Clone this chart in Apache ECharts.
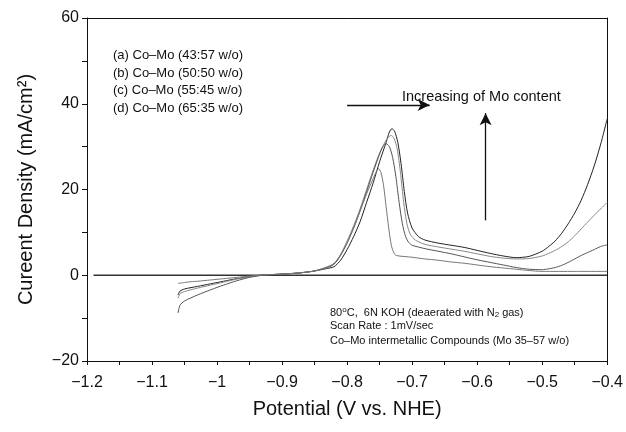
<!DOCTYPE html>
<html>
<head>
<meta charset="utf-8">
<script src="https://cdn.jsdelivr.net/npm/echarts@6/dist/echarts.min.js"></script>
<style>
html, body { margin: 0; padding: 0; background: #fff; }
#main { width: 626px; height: 432px; }
</style>
</head>
<body>
<div id="main"></div>
<script>
// potential (V vs NHE), current density (mA/cm2)
var curveA = [[-1.06,-4.6],[-1.057,-3.7],[-1.05,-3.2],[-1.03,-2.6],[-1.01,-2.0],[-0.99,-1.4],[-0.97,-0.8],[-0.95,-0.3],[-0.93,0.05],[-0.91,0.2],
  [-0.89,0.35],[-0.87,0.6],[-0.85,1.0],[-0.83,1.6],[-0.82,2.0],[-0.81,3.5],[-0.80,6],[-0.79,9],[-0.78,12.5],[-0.77,17],[-0.76,21.5],[-0.75,26.5],
  [-0.74,31],[-0.735,33.4],[-0.731,34.2],[-0.727,33.6],[-0.722,31],[-0.717,26],[-0.712,19.5],[-0.707,14.5],[-0.70,11],[-0.69,9],[-0.68,8.2],
  [-0.66,7.5],[-0.64,7],[-0.62,6.5],[-0.60,5.8],[-0.58,5.1],[-0.56,4.5],[-0.54,4.1],[-0.52,4.4],[-0.50,5.6],[-0.49,6.7],[-0.48,8],[-0.47,9.8],[-0.46,12],
  [-0.45,14.5],[-0.44,17.5],[-0.43,21.2],[-0.42,25.5],[-0.41,30.6],[-0.40,36.5]];
var curveB = [[-1.06,-5.4],[-1.057,-4.3],[-1.05,-3.8],[-1.03,-3.0],[-1.01,-2.3],[-0.99,-1.6],[-0.97,-0.9],[-0.95,-0.35],[-0.93,0.05],[-0.91,0.2],
  [-0.89,0.35],[-0.87,0.6],[-0.85,1.0],[-0.83,1.8],[-0.82,2.6],[-0.81,4.8],[-0.80,8],[-0.79,11.5],[-0.78,15.5],[-0.77,20],[-0.76,24.5],[-0.75,28.5],
  [-0.74,31.5],[-0.735,32.4],[-0.732,32.6],[-0.728,32],[-0.723,29.5],[-0.718,24],[-0.713,17],[-0.708,12],[-0.703,9.6],[-0.695,8.2],[-0.68,7.2],
  [-0.66,6.6],[-0.64,6.1],[-0.62,5.6],[-0.60,5.0],[-0.58,4.4],[-0.56,4.0],[-0.54,3.8],[-0.52,3.9],[-0.50,4.5],[-0.49,5.1],[-0.48,5.8],[-0.47,6.7],[-0.46,7.8],
  [-0.45,9.2],[-0.44,10.8],[-0.43,12.4],[-0.42,14],[-0.41,15.5],[-0.40,17]];
var curveC = [[-1.06,-8.8],[-1.057,-7.0],[-1.05,-6.0],[-1.03,-4.6],[-1.01,-3.4],[-0.99,-2.3],[-0.97,-1.3],[-0.95,-0.5],[-0.93,0.0],[-0.91,0.2],
  [-0.89,0.35],[-0.87,0.6],[-0.85,1.0],[-0.83,1.9],[-0.82,2.6],[-0.81,4.6],[-0.80,7.5],[-0.79,11],[-0.78,15],[-0.77,19.5],[-0.76,24],[-0.75,28.3],
  [-0.745,30],[-0.74,30.7],[-0.735,30],[-0.73,27.5],[-0.725,23],[-0.72,17],[-0.715,12],[-0.71,9],[-0.705,7.6],[-0.70,7],[-0.68,6.2],
  [-0.66,5.6],[-0.64,5],[-0.62,4.3],[-0.60,3.6],[-0.58,3.0],[-0.56,2.4],[-0.54,1.8],[-0.52,1.4],[-0.50,1.3],[-0.49,1.5],[-0.48,1.8],[-0.47,2.3],[-0.46,3],
  [-0.45,3.8],[-0.44,4.6],[-0.43,5.3],[-0.42,6],[-0.41,6.7],[-0.40,7.1]];
var curveD = [[-1.06,-1.9],[-1.05,-1.7],[-1.04,-1.5],[-1.03,-1.4],[-1.01,-1.1],[-0.99,-0.8],[-0.97,-0.5],[-0.95,-0.2],[-0.93,0.05],[-0.91,0.2],
  [-0.89,0.35],[-0.87,0.6],[-0.85,1.0],[-0.83,2.0],[-0.82,2.8],[-0.81,4.8],[-0.80,7.5],[-0.79,11],[-0.78,15],[-0.77,19],[-0.76,22.5],[-0.755,24.2],
  [-0.752,24.9],[-0.748,24],[-0.744,21],[-0.74,16],[-0.736,11],[-0.732,7],[-0.728,5.2],[-0.724,4.6],[-0.70,4.2],[-0.68,3.8],[-0.66,3.5],
  [-0.64,3.1],[-0.62,2.8],[-0.60,2.4],[-0.58,2.0],[-0.56,1.7],[-0.54,1.4],[-0.52,1.1],[-0.50,0.9],[-0.45,0.9],[-0.40,0.9]];
var zeroLine = [[-1.19,0],[-0.4,0]];

var arrowRight = [[-0.80,39.7],[-0.673,39.7]];
var arrowUp = [[-0.587,12.8],[-0.587,37.8]];

var legendLines = ['(a) Co\u2013Mo (43:57 w/o)', '(b) Co\u2013Mo (50:50 w/o)', '(c) Co\u2013Mo (55:45 w/o)', '(d) Co\u2013Mo (65:35 w/o)'];
var noteLines = ['80{sup|o}C,  6N KOH (deaerated with N{sub|2} gas)', 'Scan Rate : 1mV/sec', 'Co\u2013Mo intermetallic Compounds (Mo 35\u201357 w/o)'];

var FONT = '"Liberation Sans", Arial, sans-serif';

function fmt(v) {
  return parseFloat(v.toFixed(2)).toString().replace('-', '\u2212');
}

function curve(data, color, type) {
  return {
    type: 'line',
    data: data,
    showSymbol: false,
    smooth: 0.25,
    lineStyle: { color: color, width: 1, type: type || 'solid' },
    z: 3
  };
}

var myChart = echarts.init(document.getElementById('main'));

var graphics = [];
legendLines.forEach(function (t, i) {
  graphics.push({
    type: 'text', left: 113, top: 49 + i * 17.5,
    style: { text: t, font: '13px ' + FONT, fill: '#111' }
  });
});
graphics.push({
  type: 'text', left: 402, top: 89,
  style: { text: 'Increasing of Mo content', font: '14.5px ' + FONT, fill: '#111' }
});
noteLines.forEach(function (t, i) {
  graphics.push({
    type: 'text', left: 330, top: 306 + i * 14.5,
    style: {
      text: t, fontFamily: FONT, fontSize: 11, fill: '#111',
      rich: {
        sup: { fontFamily: FONT, fontSize: 8, padding: [0, 0, 5, 0], fill: '#111' },
        sub: { fontFamily: FONT, fontSize: 8, padding: [5, 0, 0, 0], fill: '#111' }
      }
    }
  });
});

var option = {
  animation: false,
  backgroundColor: '#fff',
  grid: { left: 87, right: 14, top: 18, bottom: 71 },
  xAxis: [{
    type: 'value', min: -1.2, max: -0.4, interval: 0.1,
    name: 'Potential (V vs. NHE)', nameLocation: 'middle', nameGap: 38,
    nameTextStyle: { fontFamily: FONT, fontSize: 20, color: '#111' },
    axisLine: { show: true, onZero: false, lineStyle: { color: '#111', width: 1 } },
    axisTick: { show: true, length: 4, lineStyle: { color: '#111' } },
    minorTick: { show: true, splitNumber: 2, length: 4, lineStyle: { color: '#111' } },
    splitLine: { show: false },
    axisLabel: { fontFamily: FONT, fontSize: 16, color: '#111', margin: 14, formatter: fmt }
  }, {
    type: 'value', position: 'top', min: -1.2, max: -0.4,
    axisLine: { show: true, onZero: false, lineStyle: { color: '#111', width: 1 } },
    axisTick: { show: false }, axisLabel: { show: false }, splitLine: { show: false }
  }],
  yAxis: [{
    type: 'value', min: -20, max: 60, interval: 20,
    name: 'Cureent Density (mA/cm\u00b2)', nameLocation: 'middle', nameGap: 51,
    nameTextStyle: { fontFamily: FONT, fontSize: 20, color: '#111' },
    axisLine: { show: true, onZero: false, lineStyle: { color: '#111', width: 1 } },
    axisTick: { show: true, length: 5, lineStyle: { color: '#111' } },
    minorTick: { show: true, splitNumber: 2, length: 5, lineStyle: { color: '#111' } },
    splitLine: { show: false },
    axisLabel: { fontFamily: FONT, fontSize: 16, color: '#111', margin: 8, formatter: fmt }
  }, {
    type: 'value', position: 'right', min: -20, max: 60,
    axisLine: { show: true, onZero: false, lineStyle: { color: '#111', width: 1 } },
    axisTick: { show: false }, axisLabel: { show: false }, splitLine: { show: false }
  }],
  series: [
    {
      type: 'line', data: zeroLine, showSymbol: false,
      lineStyle: { color: '#333', width: 1.3 }, z: 2,
      markLine: {
        silent: true, symbol: ['none', 'arrow'], symbolSize: [9, 12],
        label: { show: false },
        lineStyle: { color: '#111', width: 1.3, type: 'solid' },
        data: [
          [{ coord: arrowRight[0] }, { coord: arrowRight[1] }],
          [{ coord: arrowUp[0] }, { coord: arrowUp[1] }]
        ]
      }
    },
    curve(curveA, '#222'),
    curve(curveB, '#888'),
    curve(curveC, '#555'),
    curve(curveD, '#777')
  ],
  graphic: graphics
};

myChart.setOption(option);
</script>
</body>
</html>
